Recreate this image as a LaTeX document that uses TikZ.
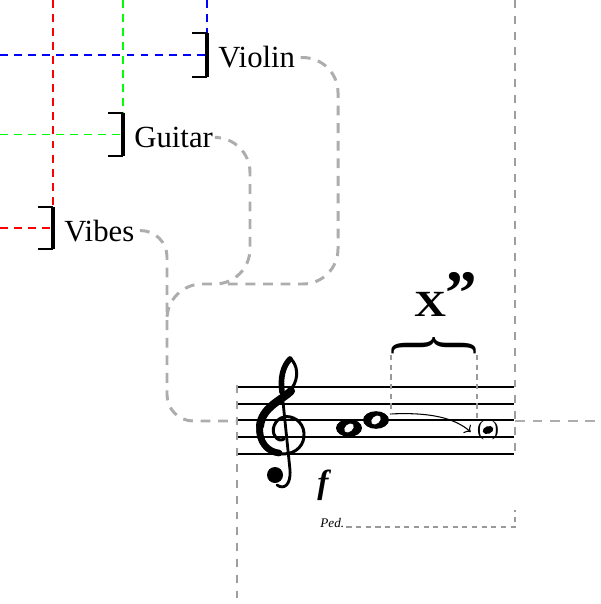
\documentclass[tikz,border=0pt]{standalone}
\usepackage{fontspec}
\usepackage{graphicx}
\setmainfont{Liberation Serif}
\usetikzlibrary{arrows.meta}

\tikzset{
    route/.style={draw=black!32, line width=1.7pt, dash pattern=on 5.6pt off 4.4pt, rounded corners=20pt},
    guide/.style={draw=black!38, line width=1.1pt, dash pattern=on 4.5pt off 4.5pt},
    fine/.style={draw=black!40, line width=0.6pt, dash pattern=on 3pt off 2.5pt},
    track/.style={line width=1.1pt, dash pattern=on 4.5pt off 3.5pt},
    wholenote/.pic={
        \fill (0,0) ellipse [x radius=13, y radius=8.8];
        \fill[white, rotate=40] (0,0) ellipse [x radius=5.4, y radius=3.7];
    }
}

\begin{document}
\begin{tikzpicture}[x=0.02cm, y=-0.02cm]
    \useasboundingbox (0,0) rectangle (600,604);

    % instruments
    \foreach \x/\top/\bot/\col/\name/\lab in {207/33/77/blue/violin/Violin, 123/113/156/green/guitar/Guitar, 53/207/249/red/vibes/Vibes} {
        \draw[track, \col] (\x,0) -- (\x,\top);
        \draw[track, \col] (0,{(\top+\bot)/2}) -- (\x,{(\top+\bot)/2});
        \draw[line width=1pt] (\x-15,\top) -- (\x,\top) (\x-15,\bot) -- (\x,\bot);
        \draw[line width=2.8pt] (\x,\top) -- (\x,\bot);
        \node[anchor=base west, inner sep=0pt, font=\fontsize{17.5}{20}\selectfont] (\name) at (\x+11,{(\top+\bot)/2+13}) {\lab};
    }

    % staff
    \coordinate (in) at (237,421);
    \coordinate (out) at (515,421);
    \coordinate (exit) at (600,421);
    \draw[guide] (515,0) -- (515,454);
    \draw[guide] (237,385) -- (237,604);
    \foreach \i in {0,...,4}
        \draw[line width=1.1pt] (238,387+16.7*\i) -- (514,387+16.7*\i);

    % routes
    \coordinate (gjoin) at (167,322);
    \coordinate (vjoin) at (222,284);
    \begin{scope}[shorten <=3pt]
        \draw[route, rounded corners=15pt] (vibes.east) -| (167,421) -- (in);
        \draw[route] (guitar.east) -| (250,284) -| (gjoin);
        \draw[route] (violin.east) -| (338,284) -- (vjoin);
    \end{scope}
    \draw[route] (out) -- (exit);

    % clef
    \begin{scope}[line cap=round]
        \draw[line width=1.7pt] (290,358) .. controls (298,365) and (299,378) .. (292,388)
            .. controls (282,400) and (260,406) .. (258,426)
            .. controls (256,443) and (268,454) .. (283,454)
            .. controls (297,454) and (305,444) .. (304,433)
            .. controls (303,421) and (292,415) .. (284,417)
            .. controls (274,419) and (271,431) .. (275,436)
            .. controls (277,440) and (281,441) .. (284,439);
        \draw[line width=4.6pt] (291,391) .. controls (282,400) and (262,407) .. (260,426);
        \draw[line width=3.8pt] (260,426) .. controls (258,442) and (268,452) .. (279,453);
        \draw[line width=3.2pt] (290,359) .. controls (283,366) and (280,378) .. (282,392);
        \draw[line width=1.6pt] (282,392) -- (290,470) .. controls (291,485) and (284,490) .. (277,485);
        \fill (275,475) circle [radius=8];
    \end{scope}

    % notes
    \coordinate (n1) at (349,428);
    \coordinate (n2) at (376,420);
    \pic at (n1) {wholenote};
    \pic at (n2) {wholenote};
    \coordinate (ghost) at (488,430);
    \fill[rotate around={20:(ghost)}] (ghost) ellipse [x radius=5.5, y radius=3.8];
    \node[inner sep=0pt, font=\fontsize{12}{13}\selectfont] (paren) at (ghost) {(\hspace{4.5pt})};
    \draw[-{To[length=3pt]}, line width=0.6pt] ([shift={(14,-6)}]n2) .. controls (430,412) and (455,418) .. ([shift={(-6,2)}]paren.west);

    % brace
    \node[inner sep=0pt] (brace) at (434,346) {\resizebox*{48pt}{15pt}{\rotatebox{-90}{\{}}};
    \draw[fine] (391,355) -- (391,413);
    \draw[fine] (477,355) -- (477,420);
    \node[anchor=base, inner sep=0pt, xscale=1.2, font=\fontsize{21}{24}\selectfont\bfseries] (chord) at (430,316) {X};
    \node[anchor=north, inner sep=0pt, font=\fontsize{36}{40}\selectfont\bfseries] (prime) at (461,272) {”};

    % dynamics, pedal
    \node[inner sep=0pt, font=\fontsize{19}{21}\selectfont\bfseries\itshape] (dyn) at (323,485) {f};
    \node[anchor=base west, inner sep=0pt, font=\fontsize{7.5}{8}\selectfont\itshape] (ped) at (320,527) {Ped.};
    \coordinate (pedend) at (515,510);
    \draw[fine, line width=0.8pt] ([xshift=1pt]ped.base east) -| (pedend);
\end{tikzpicture}
\end{document}
